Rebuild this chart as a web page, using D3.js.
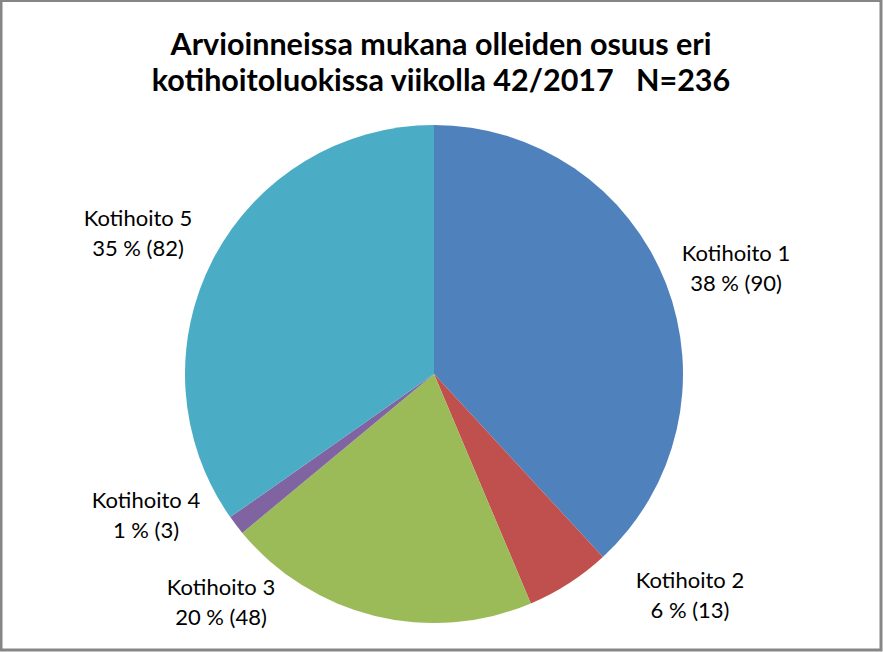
<!DOCTYPE html>
<html>
<head>
<meta charset="utf-8">
<script src="https://cdn.jsdelivr.net/npm/d3@7"></script>
<style>
  body { margin: 0; background: #fff; }
  text { font-family: Lato, "Open Sans", sans-serif; fill: #000; white-space: pre; }
</style>
</head>
<body>
<svg id="chart"></svg>
<script>
// data
const categories = ["Kotihoito 1", "Kotihoito 2", "Kotihoito 3", "Kotihoito 4", "Kotihoito 5"];
const counts = [90, 13, 48, 3, 82];
const titleLines = ["Arvioinneissa mukana olleiden osuus eri", "kotihoitoluokissa viikolla 42/2017   N=236"];

// layout
const width = 883, height = 652;
const cx = 434, cy = 374, radius = 249;
const colors = ["#4F81BD", "#C0504D", "#9BBB59", "#8064A2", "#4BACC6"];
// label anchor (centre of the two-line label) relative to pie centre
const labelPos = [[302, -108], [256, 219], [-213, 226], [-288, 139], [-296, -143]];

const svg = d3.select("#chart")
  .attr("width", width)
  .attr("height", height);

svg.append("rect")
  .attr("x", 1).attr("y", 0.5)
  .attr("width", width - 3).attr("height", height - 2.5)
  .attr("fill", "#fff")
  .attr("stroke", "#868686")
  .attr("stroke-width", 3);

// title
svg.append("g").selectAll("text")
  .data(titleLines)
  .enter().append("text")
  .attr("x", 441)
  .attr("y", (d, i) => 55 + i * 36)
  .attr("text-anchor", "middle")
  .attr("font-size", 30.5)
  .attr("font-weight", "bold")
  .attr("xml:space", "preserve")
  .text(d => d);

const total = d3.sum(counts);
const pie = d3.pie().sort(null).value(d => d);
const arc = d3.arc().innerRadius(0).outerRadius(radius);

const g = svg.append("g")
  .attr("transform", "translate(" + cx + "," + cy + ")");

const arcs = pie(counts);

g.selectAll(".slice")
  .data(arcs)
  .enter().append("path")
  .attr("class", "slice")
  .attr("d", arc)
  .attr("fill", (d, i) => colors[i]);

const label = g.selectAll(".label")
  .data(arcs)
  .enter().append("text")
  .attr("class", "label")
  .attr("text-anchor", "middle")
  .attr("font-size", 22)
  .attr("transform", (d, i) => "translate(" + labelPos[i][0] + "," + labelPos[i][1] + ")");

label.append("tspan")
  .attr("x", 0).attr("y", -5)
  .text((d, i) => categories[i]);

label.append("tspan")
  .attr("x", 0).attr("y", 25)
  .text(d => Math.round(d.value / total * 100) + " % (" + d.value + ")");
</script>
</body>
</html>
